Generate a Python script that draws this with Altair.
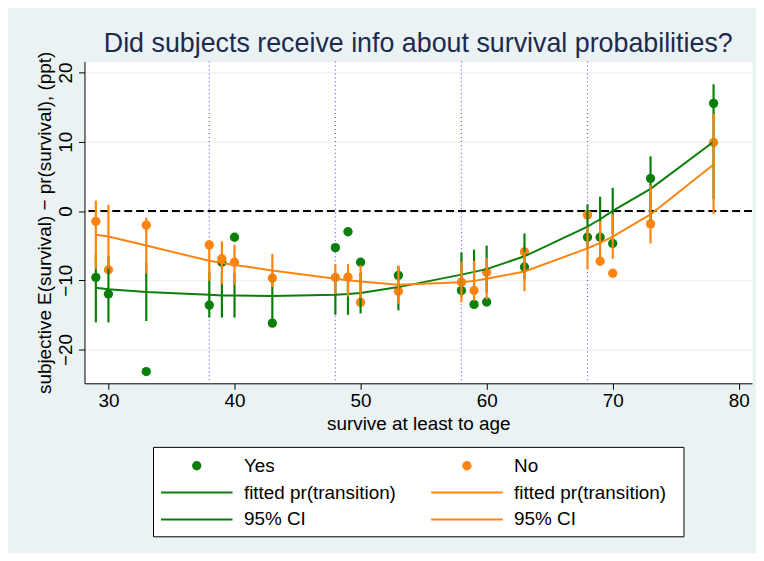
import altair as alt
import pandas as pd

# ---------------- data ----------------
ages = [29, 30, 33, 38, 39, 40, 43, 48, 49, 50, 53, 58, 59, 60, 63, 68, 69, 70, 73, 78]

yes_points = [-9.6, -12.0, -23.2, -13.6, -7.4, -3.8, -16.2, -5.3, -3.0, -7.4,
              -9.3, -11.5, -13.5, -13.15, -8.1, -3.8, -3.8, -4.7, 4.7, 15.55]
no_points = [-1.5, -8.5, -2.05, -4.9, -6.9, -7.4, -9.7, -9.6, -9.56, -13.2,
             -11.6, -10.3, -11.5, -8.85, -5.9, -0.57, -7.26, -9.0, -1.86, 9.9]

yes_fit = [-11.1, -11.3, -11.7, -12.1, -12.2, -12.2, -12.3, -12.1, -12.0, -11.85,
           -11.0, -9.2, -8.8, -8.4, -6.55, -2.25, -1.2, 0.0, 3.2, 10.0]
no_fit = [-3.44, -3.7, -5.0, -7.2, -7.5, -7.8, -8.6, -9.8, -10.0, -10.2,
          -10.66, -10.3, -10.1, -9.8, -8.75, -5.4, -4.6, -3.7, -0.5, 6.7]

yes_ci_lo = [-16.1, -16.1, -15.9, -15.4, -15.4, -15.4, -15.6, -15.0, -15.0, -14.8,
             -14.35, -12.4, -12.0, -11.8, -9.85, -5.45, -4.45, -3.35, -1.5, 1.7]
yes_ci_hi = [-6.1, -6.5, -7.5, -8.8, -9.0, -9.0, -9.0, -9.2, -9.0, -8.9,
             -8.0, -5.97, -5.6, -5.0, -3.25, 0.96, 2.06, 3.35, 7.9, 18.3]
no_ci_lo = [-8.4, -8.3, -9.05, -10.1, -10.6, -10.7, -11.0, -12.0, -12.35, -12.6,
            -13.4, -13.2, -13.0, -12.8, -11.6, -8.45, -7.7, -6.9, -4.7, -0.4]
no_ci_hi = [1.5, 0.9, -0.95, -4.3, -4.4, -4.9, -6.2, -7.65, -7.65, -7.8,
            -7.9, -7.4, -7.2, -6.8, -5.9, -2.35, -1.5, -0.5, 3.7, 14.0]

groups = ["Yes", "No"]
x_ticks = [30, 40, 50, 60, 70, 80]
y_ticks = [-20, -10, 0, 10, 20]
x_lines = [38, 48, 58, 68]

legend_labels = ["Yes", "No", "fitted pr(transition)", "fitted pr(transition)", "95% CI", "95% CI"]
legend_groups = ["Yes", "No", "Yes", "No", "Yes", "No"]
legend_kinds = ["point", "point", "line", "line", "line", "line"]
legend_rows = [0, 0, 1, 1, 2, 2]
legend_cols = [0, 1, 0, 1, 0, 1]

title_text = "Did subjects receive info about survival probabilities?"
x_title = "survive at least to age"
y_title = "subjective E(survival) \u2212 pr(survival), (ppt)"

# ---------------- styling ----------------
GREEN = "#0a7f0a"
ORANGE = "#ff840f"
BG = "#eaf2f3"
FONT = "Liberation Sans"

rows = []
for g, pts, fit, lo, hi in [("Yes", yes_points, yes_fit, yes_ci_lo, yes_ci_hi),
                            ("No", no_points, no_fit, no_ci_lo, no_ci_hi)]:
    for a, p, f, l, h in zip(ages, pts, fit, lo, hi):
        rows.append({"age": a, "group": g, "point": p, "fit": f, "lo": l, "hi": h})
df = pd.DataFrame(rows)

color_scale = alt.Scale(domain=groups, range=[GREEN, ORANGE])
xs = alt.Scale(domain=[28.1, 81.05], nice=False, zero=False)
ys = alt.Scale(domain=[-24.9, 21.6], nice=False, zero=False)

x_axis = alt.Axis(values=x_ticks, title=x_title, grid=False, labelFontSize=19, titleFontSize=19,
                  titleFontWeight="normal", labelColor="black", titleColor="black",
                  tickColor="black", domainColor="black", tickSize=6, labelPadding=2,
                  titlePadding=4, labelFlush=False)
y_axis = alt.Axis(values=y_ticks, title=y_title, grid=True, gridColor=BG, gridWidth=1.2,
                  labelFontSize=19, titleFontSize=19, titleFontWeight="normal",
                  labelColor="black", titleColor="black", tickColor="black",
                  domainColor="black", tickSize=6, labelAngle=270, labelAlign="center",
                  labelBaseline="bottom", labelPadding=3, titlePadding=2)

base = alt.Chart(df)

vlines = alt.Chart(pd.DataFrame({"v": x_lines})).mark_rule(
    color="#5a5aff", strokeDash=[1, 3], strokeWidth=1.2
).encode(x=alt.X("v:Q", scale=xs, axis=x_axis))

zero_line = alt.Chart(pd.DataFrame({"z": [0]})).mark_rule(
    color="black", strokeDash=[8, 4], strokeWidth=2
).encode(y=alt.Y("z:Q", scale=ys, axis=y_axis))

layers = [vlines, zero_line]
for g in groups:
    layers.append(base.transform_filter(alt.datum.group == g).mark_circle(size=88, opacity=1).encode(
        x=alt.X("age:Q", scale=xs, axis=x_axis),
        y=alt.Y("point:Q", scale=ys, axis=y_axis),
        color=alt.Color("group:N", scale=color_scale, legend=None)))
for g in groups:
    layers.append(base.transform_filter(alt.datum.group == g).mark_line(strokeWidth=2).encode(
        x=alt.X("age:Q", scale=xs),
        y=alt.Y("fit:Q", scale=ys),
        color=alt.Color("group:N", scale=color_scale, legend=None)))
for g in groups:
    layers.append(base.transform_filter(alt.datum.group == g).mark_rule(strokeWidth=2.2).encode(
        x=alt.X("age:Q", scale=xs),
        y=alt.Y("lo:Q", scale=ys),
        y2="hi:Q",
        color=alt.Color("group:N", scale=color_scale, legend=None)))

main = alt.layer(*layers).properties(
    width=672, height=324,
    view=alt.ViewBackground(fill="white", stroke="transparent"),
    title=alt.TitleParams(title_text, fontSize=27, fontWeight="normal", color="#1d2a4d",
                          anchor="middle", frame="group", offset=-7),
)

# ---------------- legend ----------------
leg = pd.DataFrame({"label": legend_labels, "group": legend_groups, "kind": legend_kinds,
                    "row": legend_rows, "col": legend_cols})
lx = alt.X("col:O", scale=alt.Scale(type="point", range=[44, 316], padding=0), axis=None)
ly = alt.Y("row:O", scale=alt.Scale(type="point", range=[19, 73], padding=0), axis=None)
lc = alt.Color("group:N", scale=color_scale, legend=None)
lbase = alt.Chart(leg)
leg_pts = lbase.transform_filter(alt.datum.kind == "point").mark_circle(size=88, opacity=1).encode(
    x=lx, y=ly, color=lc)
leg_lines = lbase.transform_filter(alt.datum.kind == "line").mark_rule(
    strokeWidth=2, xOffset=-36, x2Offset=36).encode(x=lx, x2="col:O", y=ly, color=lc)
leg_text = lbase.mark_text(align="left", baseline="middle", dx=47.5, fontSize=19, color="black").encode(
    x=lx, y=ly, text="label:N")
legend = alt.layer(leg_pts, leg_lines, leg_text).properties(
    width=534, height=90,
    view=alt.ViewBackground(fill="white", stroke="black", strokeWidth=1),
)

chart = alt.vconcat(main, legend, spacing=64, bounds="flush", center=True).properties(
    background=BG,
    padding={"left": 27, "top": 20, "right": 2, "bottom": 14},
).configure(font=FONT)

chart.save("out.html", embed_options={"renderer": "svg", "actions": False})
